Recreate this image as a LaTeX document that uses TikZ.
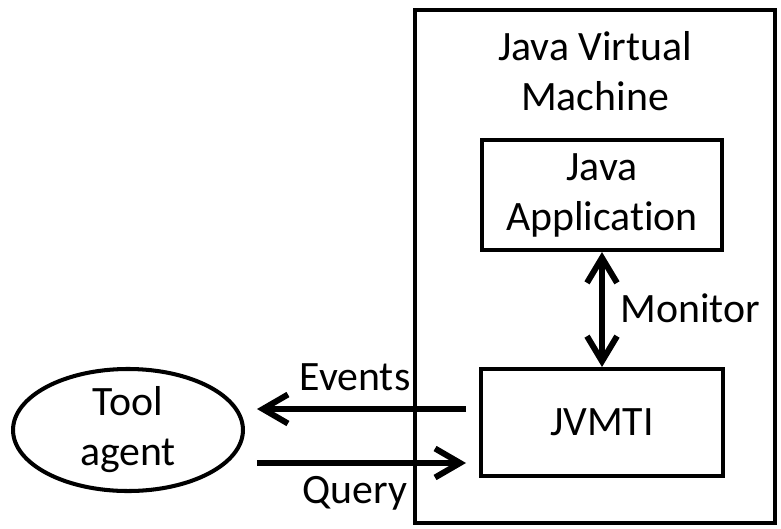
\documentclass[tikz,border=0pt]{standalone}
\usepackage{fontspec}
\setmainfont{Carlito}[Ligatures=NoCommon]
\usetikzlibrary{arrows.meta,positioning,shapes.geometric}
\tikzset{
  vmbox/.style={draw, line width=2.3pt, rectangle, inner sep=0pt},
  compbox/.style={draw, line width=2.3pt, rectangle, align=center,
    font=\fontsize{23.8}{28.5}\selectfont, inner sep=0pt},
  agentshape/.style={draw, line width=2.3pt, ellipse, align=center,
    minimum width=4.6cm, minimum height=2.4cm, inner sep=0pt,
    font=\fontsize{23.8}{28.5}\selectfont},
  lbl/.style={align=center, font=\fontsize{23.8}{28.5}\selectfont, inner sep=0pt},
  flow/.style={-{Straight Barb[length=0.5cm, width=0.58cm]}, line width=3.4pt},
  bothflow/.style={{Straight Barb[length=0.5cm, width=0.6cm]}-{Straight Barb[length=0.5cm, width=0.6cm]}, line width=3.4pt}
}
\begin{document}
\begin{tikzpicture}[x=0.02cm, y=-0.02cm]
  \useasboundingbox (0,0) rectangle (781,528);

  % virtual machine frame
  \node[vmbox, minimum width=7.2cm, minimum height=10.26cm] (jvm) at (595,266.5) {};
  \node[lbl] (jvmlabel) at (595,71) {Java Virtual\\Machine};

  % boxes inside the frame
  \node[compbox, minimum width=4.8cm, minimum height=2.2cm] (app) at (602,195) {Java\\Application};
  \node[compbox, minimum width=4.84cm, minimum height=2.14cm] (jvmti) at (602,422.5) {JVMTI};

  % the agent outside
  \node[agentshape] (agent) at (128,430) {Tool\\agent};

  % connectors
  \draw[bothflow] (app.south) -- (jvmti.north);
  \node[lbl, anchor=west] (monitor) at (620,308) {Monitor};

  \draw[flow] ([xshift=-0.26cm,yshift=0.27cm]jvmti.west)
    -- ([xshift=0.24cm,yshift=0.27cm]jvmti.west -| agent.east);
  \draw[flow] ([xshift=0.24cm,yshift=-0.81cm]jvmti.west -| agent.east)
    -- ([xshift=-0.26cm,yshift=-0.81cm]jvmti.west);

  \node[lbl] (events) at (355,377) {Events};
  \node[lbl] (query) at (355,493) {Query};
\end{tikzpicture}
\end{document}
